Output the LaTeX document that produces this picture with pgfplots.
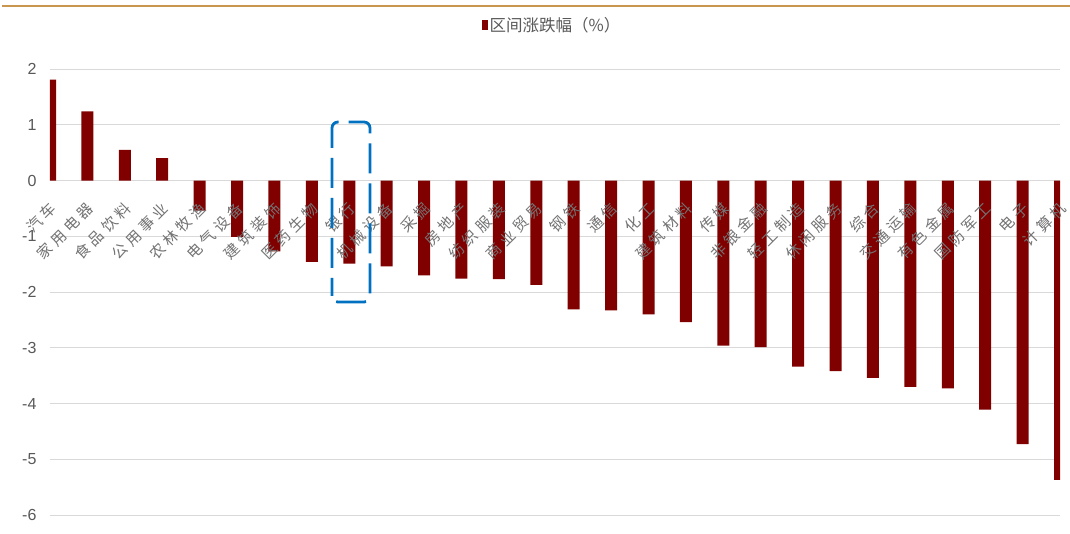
\documentclass[border=0pt]{standalone}
\usepackage{pgfplots}
\pgfplotsset{compat=1.18}
\usepackage{fontspec}
\setmainfont{Liberation Sans}
\newfontfamily\cjk{Noto Sans CJK SC}
\newfontfamily\cjkspaced[LetterSpace=26]{Noto Sans CJK SC}
\definecolor{barred}{RGB}{128,0,0}
\definecolor{gridgray}{RGB}{217,217,217}
\definecolor{txtgray}{RGB}{89,89,89}
\definecolor{lblgray}{RGB}{115,115,115}
\definecolor{gold}{RGB}{200,150,78}
\definecolor{annblue}{RGB}{0,112,192}
\pgfplotsset{
  mybase/.style={
    at={(50pt,18pt)}, anchor=south west,
    scale only axis, width=1010pt, height=446pt,
    xmin=0, xmax=27, ymin=-6, ymax=2,
    enlargelimits=false,
    axis line style={draw=none},
    major tick length=0pt,
  },
}
\pgfplotstableread{
x y
0 1.81
1 1.24
2 0.55
3 0.40
4 -0.54
5 -1.01
6 -1.27
7 -1.46
8 -1.49
9 -1.54
10 -1.70
11 -1.76
12 -1.77
13 -1.87
14 -2.31
15 -2.33
16 -2.40
17 -2.54
18 -2.96
19 -2.99
20 -3.34
21 -3.42
22 -3.54
23 -3.70
24 -3.73
25 -4.11
26 -4.73
27 -5.37
}\datatable
\begin{document}
\begin{tikzpicture}[x=1pt,y=1pt]
\useasboundingbox (0,0) rectangle (1070,533);
\fill[white] (0,0) rectangle (1070,533);
\draw[gold, line width=2.6pt] (2,527) -- (1070,527);
\begin{axis}[
  mybase,
  ymajorgrids, grid style={gridgray, line width=0.9pt},
  ytick={-6,-5,-4,-3,-2,-1,0,1,2},
  yticklabels={-6,-5,-4,-3,-2,-1,0,1,2},
  yticklabel style={font=\fontsize{16}{16}\selectfont, text=txtgray, anchor=east, xshift=-10pt},
  xtick=\empty,
  ybar, bar width=12pt,
  legend style={at={(0.497,1.0987)}, anchor=center, draw=none, fill=none,
    font=\cjk\fontsize{16.5}{16.5}\selectfont, text=txtgray, inner sep=0pt},
  legend image code/.code={\fill[barred] (0pt,-5pt) rectangle (6pt,5pt);},
]
\addplot[fill=barred, draw=none] table[x=x, y=y] {\datatable};
\addlegendentry{区间涨跌幅（\%）}
\end{axis}
\begin{axis}[
  mybase,
  ytick=\empty,
  xtick={0,...,27},
  xticklabels={汽车,家用电器,食品饮料,公用事业,农林牧渔,电气设备,建筑装饰,医药生物,银行,机械设备,采掘,房地产,纺织服装,商业贸易,钢铁,通信,化工,建筑材料,传媒,非银金融,轻工制造,休闲服务,综合,交通运输,有色金属,国防军工,电子,计算机},
  xticklabel style={xshift=4pt, yshift=310pt, rotate=45, anchor=east, font=\cjkspaced\fontsize{15}{15}\selectfont, text=lblgray, inner sep=1pt},
]
\end{axis}
\draw[annblue, line width=2.8pt, rounded corners=6pt, dash pattern=on 30pt off 10pt, dash phase=12pt]
  (332,231) rectangle (370,411);
\end{tikzpicture}
\end{document}
